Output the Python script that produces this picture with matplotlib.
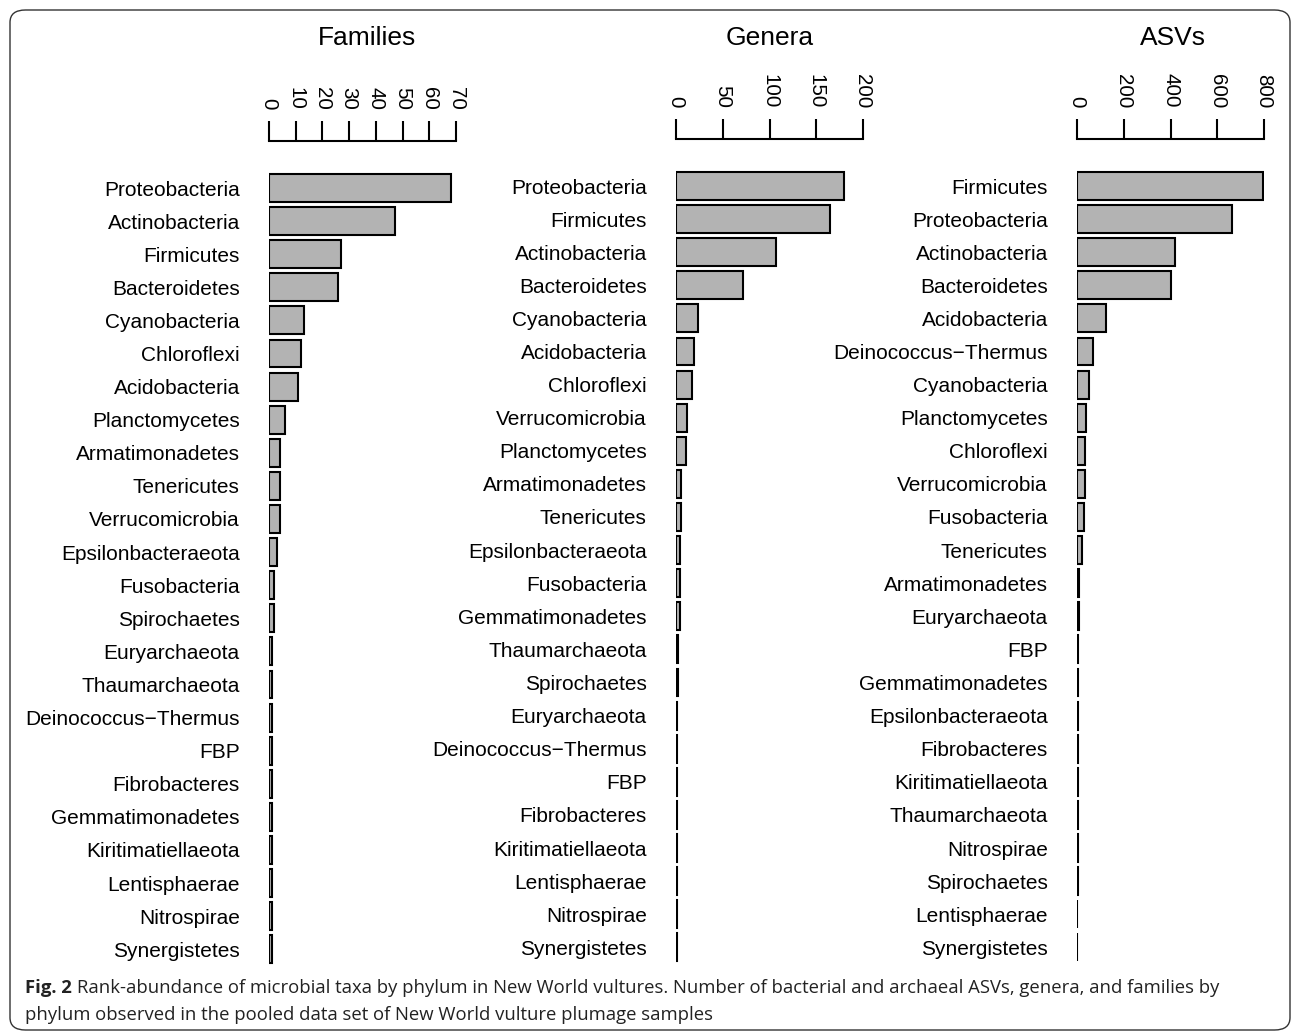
import matplotlib
matplotlib.use('Agg')
import matplotlib.pyplot as plt
from matplotlib.patches import FancyBboxPatch

plt.rcParams['font.family'] = ['Liberation Sans', 'DejaVu Sans']

# values
fam_names = ['Proteobacteria', 'Actinobacteria', 'Firmicutes', 'Bacteroidetes', 'Cyanobacteria',
             'Chloroflexi', 'Acidobacteria', 'Planctomycetes', 'Armatimonadetes', 'Tenericutes',
             'Verrucomicrobia', 'Epsilonbacteraeota', 'Fusobacteria', 'Spirochaetes', 'Euryarchaeota',
             'Thaumarchaeota', 'Deinococcus\u2212Thermus', 'FBP', 'Fibrobacteres', 'Gemmatimonadetes',
             'Kiritimatiellaeota', 'Lentisphaerae', 'Nitrospirae', 'Synergistetes']
fam_vals = [68, 47, 27, 26, 13, 12, 11, 6, 4, 4, 4, 3, 2, 2, 1, 1, 1, 1, 1, 1, 1, 1, 1, 1]

gen_names = ['Proteobacteria', 'Firmicutes', 'Actinobacteria', 'Bacteroidetes', 'Cyanobacteria',
             'Acidobacteria', 'Chloroflexi', 'Verrucomicrobia', 'Planctomycetes', 'Armatimonadetes',
             'Tenericutes', 'Epsilonbacteraeota', 'Fusobacteria', 'Gemmatimonadetes', 'Thaumarchaeota',
             'Spirochaetes', 'Euryarchaeota', 'Deinococcus\u2212Thermus', 'FBP', 'Fibrobacteres',
             'Kiritimatiellaeota', 'Lentisphaerae', 'Nitrospirae', 'Synergistetes']
gen_vals = [180, 165, 107, 72, 23, 19, 17, 12, 11, 5, 5, 4, 4, 4, 2, 2, 1, 1, 1, 1, 1, 1, 1, 1]

asv_names = ['Firmicutes', 'Proteobacteria', 'Actinobacteria', 'Bacteroidetes', 'Acidobacteria',
             'Deinococcus\u2212Thermus', 'Cyanobacteria', 'Planctomycetes', 'Chloroflexi',
             'Verrucomicrobia', 'Fusobacteria', 'Tenericutes', 'Armatimonadetes', 'Euryarchaeota',
             'FBP', 'Gemmatimonadetes', 'Epsilonbacteraeota', 'Fibrobacteres', 'Kiritimatiellaeota',
             'Thaumarchaeota', 'Nitrospirae', 'Spirochaetes', 'Lentisphaerae', 'Synergistetes']
asv_vals = [795, 663, 419, 402, 124, 67, 50, 37, 34, 33, 30, 21, 8, 7, 6, 6, 5, 5, 4, 4, 3, 3, 2, 2]

fam_ticks = [0, 10, 20, 30, 40, 50, 60, 70]
gen_ticks = [0, 50, 100, 150, 200]
asv_ticks = [0, 200, 400, 600, 800]

W, H = 1293, 1033
fig = plt.figure(figsize=(W / 100, H / 100), dpi=100)

panels = [
    ('Families', fam_names, fam_vals, fam_ticks, 269, 188, 367),
    ('Genera', gen_names, gen_vals, gen_ticks, 676, 186, 770),
    ('ASVs', asv_names, asv_vals, asv_ticks, 1077, 186, 1173),
]
pitch = 33.1
for title, names, vals, ticks, x0, yc0, tx in panels:
    top = yc0 - 0.6 * pitch
    bot = yc0 + (len(names) - 1 + 0.6) * pitch
    ax = fig.add_axes([x0 / W, 1 - bot / H, 187 / W, (bot - top) / H])
    ypos = list(range(len(names)))
    ax.barh(ypos, vals, height=0.84, color='#b3b3b3', edgecolor='black', linewidth=1.5)
    ax.set_xlim(ticks[0], ticks[-1])
    ax.set_ylim(len(names) - 1 + 0.6, -0.6)
    ax.set_yticks(ypos)
    ax.set_yticklabels(names)
    ax.tick_params(axis='y', length=0, pad=21, labelsize=15)
    ax.xaxis.tick_top()
    ax.set_xticks(ticks)
    ax.tick_params(axis='x', direction='out', length=14.4, width=1.5, pad=8,
                   labelsize=14.8, labelrotation=270)
    for s in ['bottom', 'left', 'right']:
        ax.spines[s].set_visible(False)
    ax.spines['top'].set_position(('outward', 19.5))
    ax.spines['top'].set_bounds(ticks[0], ticks[-1])
    ax.spines['top'].set_linewidth(1.5)
    fig.text(tx / W, 1 - 38 / H, title, fontsize=19, ha='center', va='center')

# rounded frame around figure and caption
frame = FancyBboxPatch((10 / W, 3 / H), 1280 / W, 1020 / H,
                       boxstyle='round,pad=0,rounding_size=0.012',
                       transform=fig.transFigure, fill=False, edgecolor='#333333', linewidth=1.0)
fig.patches.append(frame)

cap_font = ['Open Sans', 'DejaVu Sans']
t1 = fig.text(25 / W, 1 - 988 / H, 'Fig. 2', fontsize=13.3, fontweight='bold',
              family=cap_font, color='#222222', va='center')
fig.canvas.draw()
bb = t1.get_window_extent(fig.canvas.get_renderer())
fig.text((bb.x1 + 5) / W, 1 - 988 / H,
         'Rank-abundance of microbial taxa by phylum in New World vultures. Number of bacterial '
         'and archaeal ASVs, genera, and families by',
         fontsize=13.3, family=cap_font, color='#222222', va='center')
fig.text(25 / W, 1 - 1015 / H,
         'phylum observed in the pooled data set of New World vulture plumage samples',
         fontsize=13.3, family=cap_font, color='#222222', va='center')

fig.savefig('out.png', dpi=100)
